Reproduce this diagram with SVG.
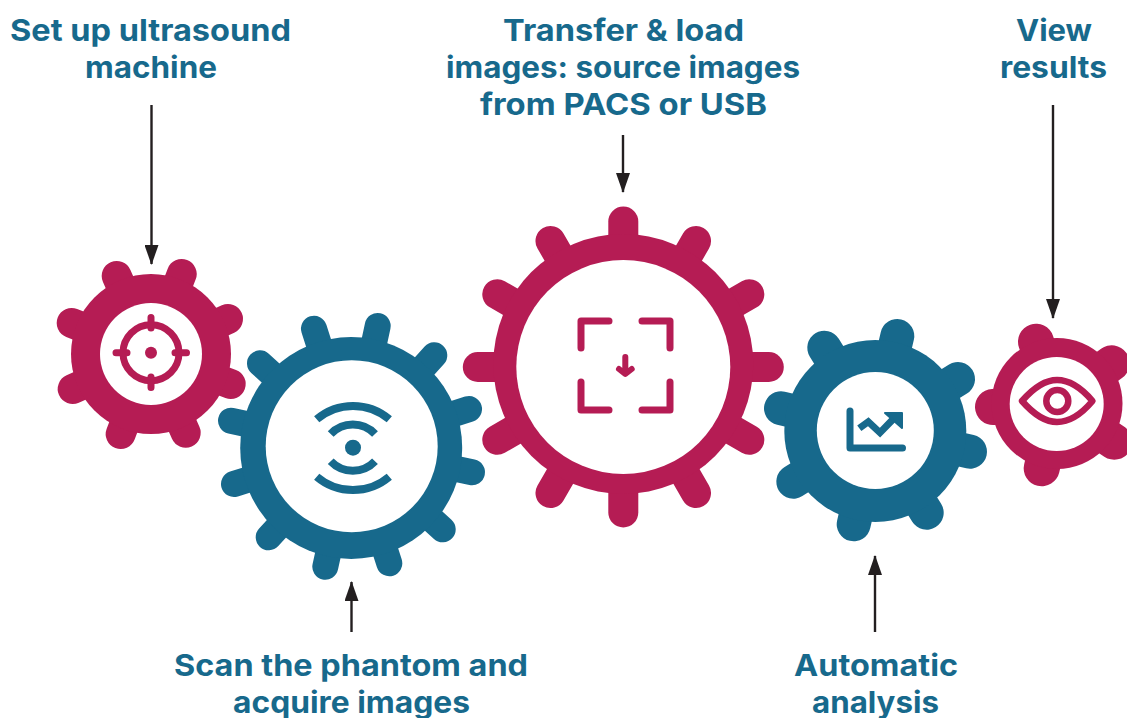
<svg xmlns="http://www.w3.org/2000/svg" width="1127" height="718" viewBox="0 0 1127 718">
<style>
.bg{fill:#fff}
.lbl{font-family:"Inter","Liberation Sans",sans-serif;font-weight:700;font-size:30px;fill:#17698c;text-anchor:middle}
.m{fill:#b51c54;stroke:#b51c54}
.b{fill:#17698c;stroke:#17698c}
.g circle.r{stroke:none}
.g circle.h{fill:#fff;stroke:none}
.t1 line{stroke-width:30;stroke-linecap:round}
.t2 line{stroke-width:26;stroke-linecap:round}
.t3 line{stroke-width:30;stroke-linecap:round}
.t4 line{stroke-width:34;stroke-linecap:round}
.t5 line{stroke-width:36;stroke-linecap:round}
.i{fill:none;stroke-linecap:round;stroke-linejoin:round}
.im{stroke:#b51c54}
.ib{stroke:#17698c}
.c line{stroke:#231f20;stroke-width:2.400;marker-end:url(#ah)}
</style>
<defs>
<marker id="ah" markerUnits="userSpaceOnUse" markerWidth="20" markerHeight="14" refX="19" refY="7" viewBox="0 0 20 14" orient="auto"><path d="M0 0L20 7L0 14Z" fill="#231f20"/></marker>
</defs>
<rect class="bg" width="1127" height="718"/>
<g id="connectors" class="c">
<line x1="151.500" y1="105" x2="151.500" y2="264"/>
<line x1="351.500" y1="632" x2="351.500" y2="582"/>
<line x1="623" y1="135" x2="623" y2="192"/>
<line x1="875" y1="632" x2="875" y2="556"/>
<line x1="1053" y1="105" x2="1053" y2="318"/>
</g>
<g id="gear-setup" class="g t1 m">
<line x1="151" y1="354" x2="116.700" y2="276"/><line x1="151" y1="354" x2="181.700" y2="274"/><line x1="151" y1="354" x2="228" y2="319"/><line x1="151" y1="354" x2="230.700" y2="384"/><line x1="151" y1="354" x2="185.700" y2="432.700"/><line x1="151" y1="354" x2="120.700" y2="434"/><line x1="151" y1="354" x2="72.700" y2="389"/><line x1="151" y1="354" x2="71.700" y2="323"/>
<circle class="r" cx="151" cy="354" r="80"/><circle class="h" cx="151" cy="354" r="51"/>
<g class="i im"><circle cx="151" cy="352.700" r="28" stroke-width="7"/><path stroke-width="7" d="M151 317.500V328M151 377V387.500M116 352.700H127M175 352.700H186.500"/></g>
<circle cx="151" cy="352.700" r="6" style="stroke:none"/>
</g>
<g id="gear-scan" class="g t2 b">
<line x1="351.700" y1="446.700" x2="314" y2="328.700"/><line x1="351.700" y1="446.700" x2="377.700" y2="326"/><line x1="351.700" y1="446.700" x2="434.300" y2="355.300"/><line x1="351.700" y1="446.700" x2="469" y2="409"/><line x1="351.700" y1="446.700" x2="472" y2="472.300"/><line x1="351.700" y1="446.700" x2="442.700" y2="529.300"/><line x1="351.700" y1="446.700" x2="389.300" y2="563.300"/><line x1="351.700" y1="446.700" x2="325.300" y2="566.700"/><line x1="351.700" y1="446.700" x2="268.700" y2="537.300"/><line x1="351.700" y1="446.700" x2="234" y2="484"/><line x1="351.700" y1="446.700" x2="231" y2="420.700"/><line x1="351.700" y1="446.700" x2="260" y2="363.300"/>
<circle class="r" cx="351.200" cy="448" r="111"/><circle class="h" cx="351.700" cy="446.200" r="86"/>
<circle cx="353" cy="447.700" r="8" style="stroke:none"/>
<g fill="none" stroke="#17698c" stroke-width="8"><path d="M316.700 419.300A56 56 0 0 1 389.300 419.300"/><path d="M330.700 434A30.600 30.600 0 0 1 375 434"/><path d="M316.700 476.700A56 56 0 0 0 389.300 476.700"/><path d="M330.700 461.300A30.600 30.600 0 0 0 375 461.300"/></g>
</g>
<g id="gear-transfer" class="g t3 m">
<line x1="623.300" y1="367" x2="623.300" y2="221.500"/><line x1="623.300" y1="367" x2="696" y2="241"/><line x1="623.300" y1="367" x2="749.300" y2="294.250"/><line x1="623.300" y1="367" x2="768.800" y2="367"/><line x1="623.300" y1="367" x2="749.300" y2="439.750"/><line x1="623.300" y1="367" x2="696" y2="493"/><line x1="623.300" y1="367" x2="623.300" y2="512.500"/><line x1="623.300" y1="367" x2="550.500" y2="493"/><line x1="623.300" y1="367" x2="497.300" y2="439.750"/><line x1="623.300" y1="367" x2="477.800" y2="367"/><line x1="623.300" y1="367" x2="497.300" y2="294.250"/><line x1="623.300" y1="367" x2="550.500" y2="241"/>
<circle class="r" cx="623.300" cy="364" r="130"/><circle class="h" cx="623.300" cy="367" r="107"/>
<g class="i im" stroke-width="7"><path d="M581 348V321H609M642 321H670V348M581 382V410H609M642 410H670V382"/><path stroke-width="6" d="M625.300 357V372M619 369L625.300 374L631.700 369"/></g>
</g>
<g id="gear-analysis" class="g t4 b">
<line x1="875.300" y1="430.300" x2="824.300" y2="347.700"/><line x1="875.300" y1="430.300" x2="897.300" y2="336"/><line x1="875.300" y1="430.300" x2="958" y2="379"/><line x1="875.300" y1="430.300" x2="970" y2="451.700"/><line x1="875.300" y1="430.300" x2="926.700" y2="512.700"/><line x1="875.300" y1="430.300" x2="853.700" y2="524.300"/><line x1="875.300" y1="430.300" x2="793.300" y2="481.700"/><line x1="875.300" y1="430.300" x2="781" y2="408.300"/>
<circle class="r" cx="875.300" cy="431" r="91"/><circle class="h" cx="875.300" cy="430.500" r="58.500"/>
<g class="i ib"><path stroke-width="7" d="M850 411V448H902.500"/><path stroke-width="7" stroke-linecap="butt" stroke-linejoin="miter" d="M859.300 428.300L868.300 421.700L880 432.700L893.300 419"/><path fill="#17698c" stroke-width="2" d="M885 413H902V428Z"/></g>
</g>
<g id="gear-results" class="g t5 m">
<line x1="1057" y1="403.300" x2="1036" y2="341.700"/><line x1="1057" y1="403.300" x2="1111.700" y2="363.300"/><line x1="1057" y1="403.300" x2="1114.300" y2="441.700"/><line x1="1057" y1="403.300" x2="1041.700" y2="468.300"/><line x1="1057" y1="403.300" x2="993" y2="407"/>
<circle class="r" cx="1057" cy="403.500" r="65.500"/><circle class="h" cx="1056.700" cy="404" r="47"/>
<g class="i im" stroke-width="6.500"><path d="M1022 401C1036 385 1047 380 1057 380C1068 380 1079 385 1092.500 401C1079 417 1068 422 1057 422C1047 422 1036 417 1022 401Z"/><circle cx="1057.300" cy="401" r="11"/></g>
</g>
<g id="labels" lengthAdjust="spacingAndGlyphs">
<text class="lbl" x="150.500" y="41" textLength="281" lengthAdjust="spacingAndGlyphs">Set up ultrasound</text>
<text class="lbl" x="151" y="78" textLength="132" lengthAdjust="spacingAndGlyphs">machine</text>
<text class="lbl" x="623.500" y="41" textLength="241" lengthAdjust="spacingAndGlyphs">Transfer &amp; load</text>
<text class="lbl" x="623" y="78" textLength="354" lengthAdjust="spacingAndGlyphs">images: source images</text>
<text class="lbl" x="623.500" y="115" textLength="287" lengthAdjust="spacingAndGlyphs">from PACS or USB</text>
<text class="lbl" x="1054" y="41" textLength="76" lengthAdjust="spacingAndGlyphs">View</text>
<text class="lbl" x="1053.500" y="78" textLength="107" lengthAdjust="spacingAndGlyphs">results</text>
<text class="lbl" x="351" y="676" textLength="354" lengthAdjust="spacingAndGlyphs">Scan the phantom and</text>
<text class="lbl" x="351.500" y="712.500" textLength="237" lengthAdjust="spacingAndGlyphs">acquire images</text>
<text class="lbl" x="876" y="676" textLength="164" lengthAdjust="spacingAndGlyphs">Automatic</text>
<text class="lbl" x="875.500" y="712.500" textLength="127" lengthAdjust="spacingAndGlyphs">analysis</text>
</g>
</svg>
